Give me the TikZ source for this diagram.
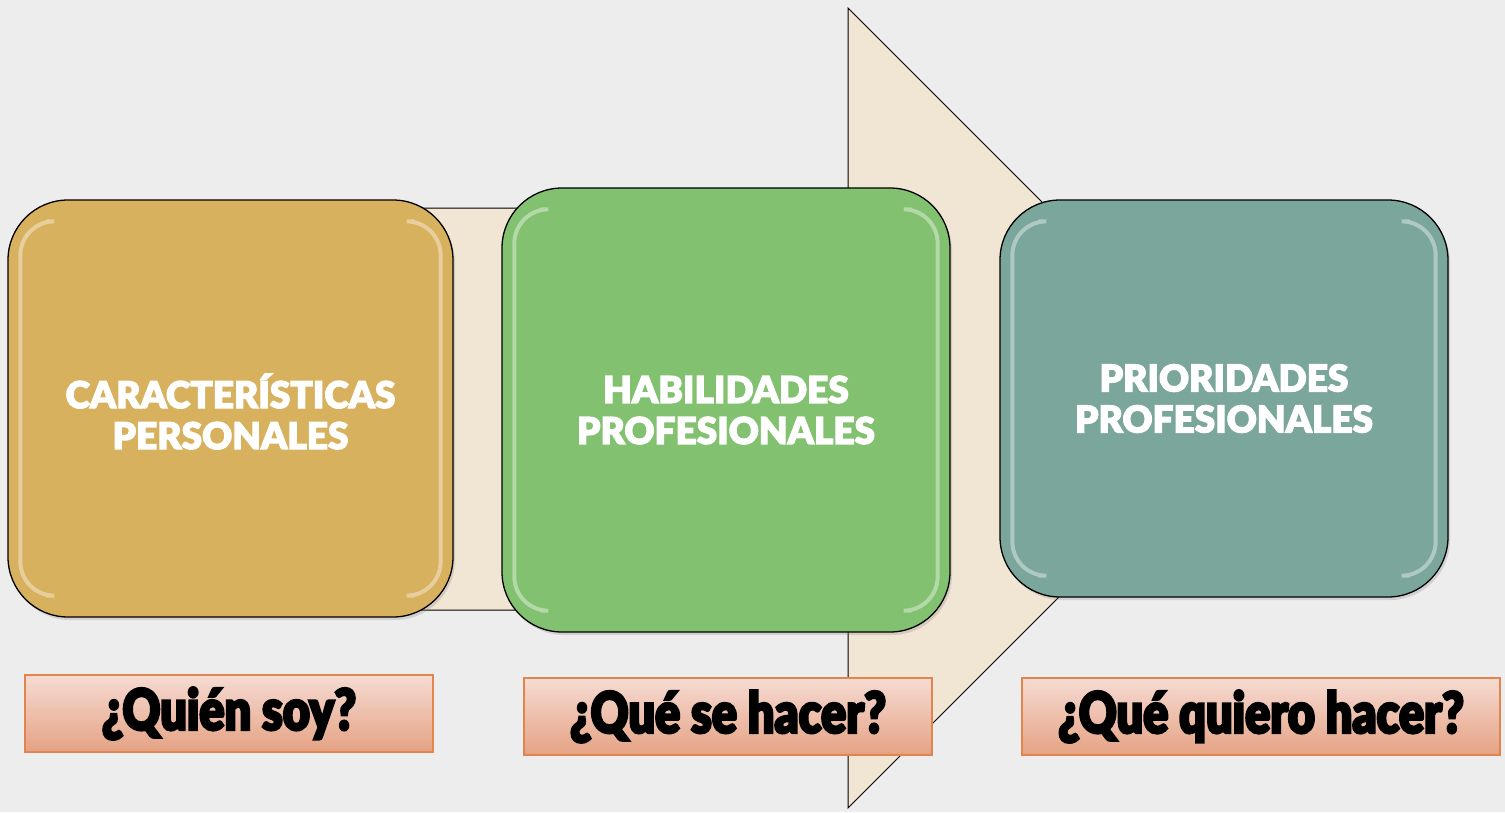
\documentclass[tikz,border=0pt]{standalone}
\usepackage{fontspec}
\newfontfamily\heavy{Lato}[UprightFont=* Black, FakeBold=3]
\newfontfamily\condensed{Lato}[UprightFont=* Black, FakeBold=4, FakeStretch=0.82]
\usetikzlibrary{shadows}
\definecolor{bg}{HTML}{EDEDED}
\definecolor{arrowfill}{HTML}{F1E5D3}
\definecolor{goldbox}{HTML}{D7B15D}
\definecolor{greenbox}{HTML}{81C16F}
\definecolor{tealbox}{HTML}{7BA69B}
\definecolor{labtop}{HTML}{F6DBD2}
\definecolor{labbot}{HTML}{E5A284}
\definecolor{labline}{HTML}{E2844E}
\tikzset{
  mainbox/.style={draw=black, line width=1.3pt, rounded corners=60pt,
    drop shadow={shadow xshift=2pt, shadow yshift=-3pt, opacity=0.25}},
  boxtext/.style={align=center, text=white, font=\heavy\fontsize{37}{41}\selectfont},
  glow/.style={line width=4pt, rounded corners=34pt, opacity=0.6, line cap=round},
  labelbox/.style={draw=labline, line width=1.5pt, top color=labtop, bottom color=labbot,
    minimum height=77pt, text=black, font=\condensed\fontsize{57}{57}\selectfont},
}
\newcommand{\sideglow}[2]{%
  \draw[glow, draw=#2] ([xshift=40pt,yshift=-22pt]#1.north west) -- ([xshift=13pt,yshift=-22pt]#1.north west)
     -- ([xshift=13pt,yshift=22pt]#1.south west) -- ([xshift=40pt,yshift=22pt]#1.south west);
  \draw[glow, draw=#2] ([xshift=-40pt,yshift=-22pt]#1.north east) -- ([xshift=-13pt,yshift=-22pt]#1.north east)
     -- ([xshift=-13pt,yshift=22pt]#1.south east) -- ([xshift=-40pt,yshift=22pt]#1.south east);
}
\begin{document}
\begin{tikzpicture}[x=1pt,y=-1pt]
\useasboundingbox (0,0) rectangle (1505,812);
\fill[bg] (0,0) rectangle (1505,812);
% big arrow
\draw[fill=arrowfill, line width=1pt] (100,208) -- (848,208) -- (848,8) -- (1248,408)
  -- (848,808) -- (848,610) -- (100,610) -- cycle;
% boxes
\node[mainbox, fill=goldbox, minimum width=445pt, minimum height=417pt] (b1) at (230.5,408.5) {};
\node[mainbox, fill=greenbox, minimum width=448pt, minimum height=444pt] (b2) at (726,410) {};
\node[mainbox, fill=tealbox, minimum width=448pt, minimum height=397pt] (b3) at (1224,398.5) {};
% glossy side highlights
\sideglow{b1}{goldbox!35!white}
\sideglow{b2}{greenbox!35!white}
\sideglow{b3}{tealbox!35!white}
% box texts
\node[boxtext] (t1) at ([yshift=-3pt]b1) {CARACTERÍSTICAS\\PERSONALES};
\node[boxtext] (t2) at (b2) {HABILIDADES\\PROFESIONALES};
\node[boxtext] (t3) at (b3) {PRIORIDADES\\PROFESIONALES};
% labels
\node[labelbox, minimum width=408pt] (l1) at (229,713.5) {¿Quién soy?};
\node[labelbox, minimum width=408pt] (l2) at (728,716.5) {¿Qué se hacer?};
\node[labelbox, minimum width=478pt] (l3) at (1261,716.5) {¿Qué quiero hacer?};
\end{tikzpicture}
\end{document}
